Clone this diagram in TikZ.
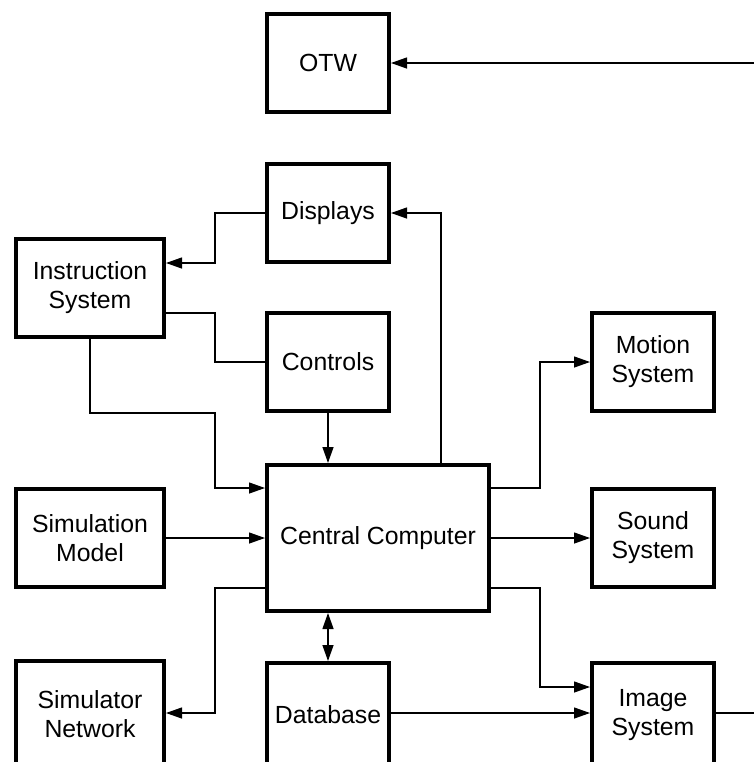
\documentclass[tikz,border=0pt]{standalone}
\usepackage{fontspec}
\setmainfont{Liberation Sans}
\usetikzlibrary{arrows.meta}
\tikzset{
  blk/.style={draw, line width=2pt, minimum width=61pt, minimum height=49pt,
    align=center, inner sep=2pt, font=\fontsize{12.4}{14.5}\selectfont},
  wide/.style={minimum width=74pt},
  conn/.style={line width=0.65pt},
  >={Triangle[length=8pt,width=5.5pt]}
}
\begin{document}
\begin{tikzpicture}[x=0.5pt,y=-0.5pt]
    \useasboundingbox (0,0) rectangle (754,762);
    \clip (0,0) rectangle (754,762);
    %blocchi colonna sinistra
    \node[blk,wide] (instr) at (90,288) {Instruction\\System};
    \node[blk,wide] (simmod) at (90,538) {Simulation\\Model};
    \node[blk,wide,minimum height=53pt] (simnet) at (90,714) {Simulator\\Network};
    %blocchi colonna centrale
    \node[blk] (otw) at (328,63) {OTW};
    \node[blk] (disp) at (328,213) {Displays};
    \node[blk] (ctrl) at (328,362) {Controls};
    \node[blk,minimum width=111pt,minimum height=73pt] (cc) at (378,538) {Central Computer};
    \node[blk,minimum height=52pt] (db) at (328,715) {Database};
    %blocchi colonna destra
    \node[blk] (motion) at (653,362) {Motion\\System};
    \node[blk] (sound) at (653,538) {Sound\\System};
    \node[blk,minimum height=52pt] (image) at (653,715) {Image\\System};
    %estremi liberi
    \coordinate (otwin) at (754,63);
    \coordinate (imgout) at (754,713);
    %collegamenti
    \draw[conn,->] (otwin) -- (otw.east);
    \draw[conn,->] (disp.west) -| (215,263) -- (instr.east |- 0,263);
    \draw[conn] (instr.east |- 0,313) -| (215,362) -- (ctrl.west);
    \draw[conn,->] (instr.south) |- (215,413) |- (cc.west |- 0,488);
    \draw[conn,->] (ctrl.south) -- (ctrl.south |- cc.north);
    \draw[conn,->] (441,0 |- cc.north) |- (disp.east);
    \draw[conn,->] (simmod.east) -- (cc.west);
    \draw[conn,->] (cc.west |- 0,588) -| (215,713) -- (simnet.east |- 0,713);
    \draw[conn,<->] (db.north |- cc.south) -- (db.north);
    \draw[conn,->] (db.east |- 0,713) -- (image.west |- 0,713);
    \draw[conn,->] (cc.east |- 0,588) -| (540,687) -- (image.west |- 0,687);
    \draw[conn] (image.east |- 0,713) -- (imgout);
    \draw[conn,->] (cc.east |- 0,488) -| (540,362) -- (motion.west);
    \draw[conn,->] (cc.east) -- (sound.west);
\end{tikzpicture}
\end{document}
